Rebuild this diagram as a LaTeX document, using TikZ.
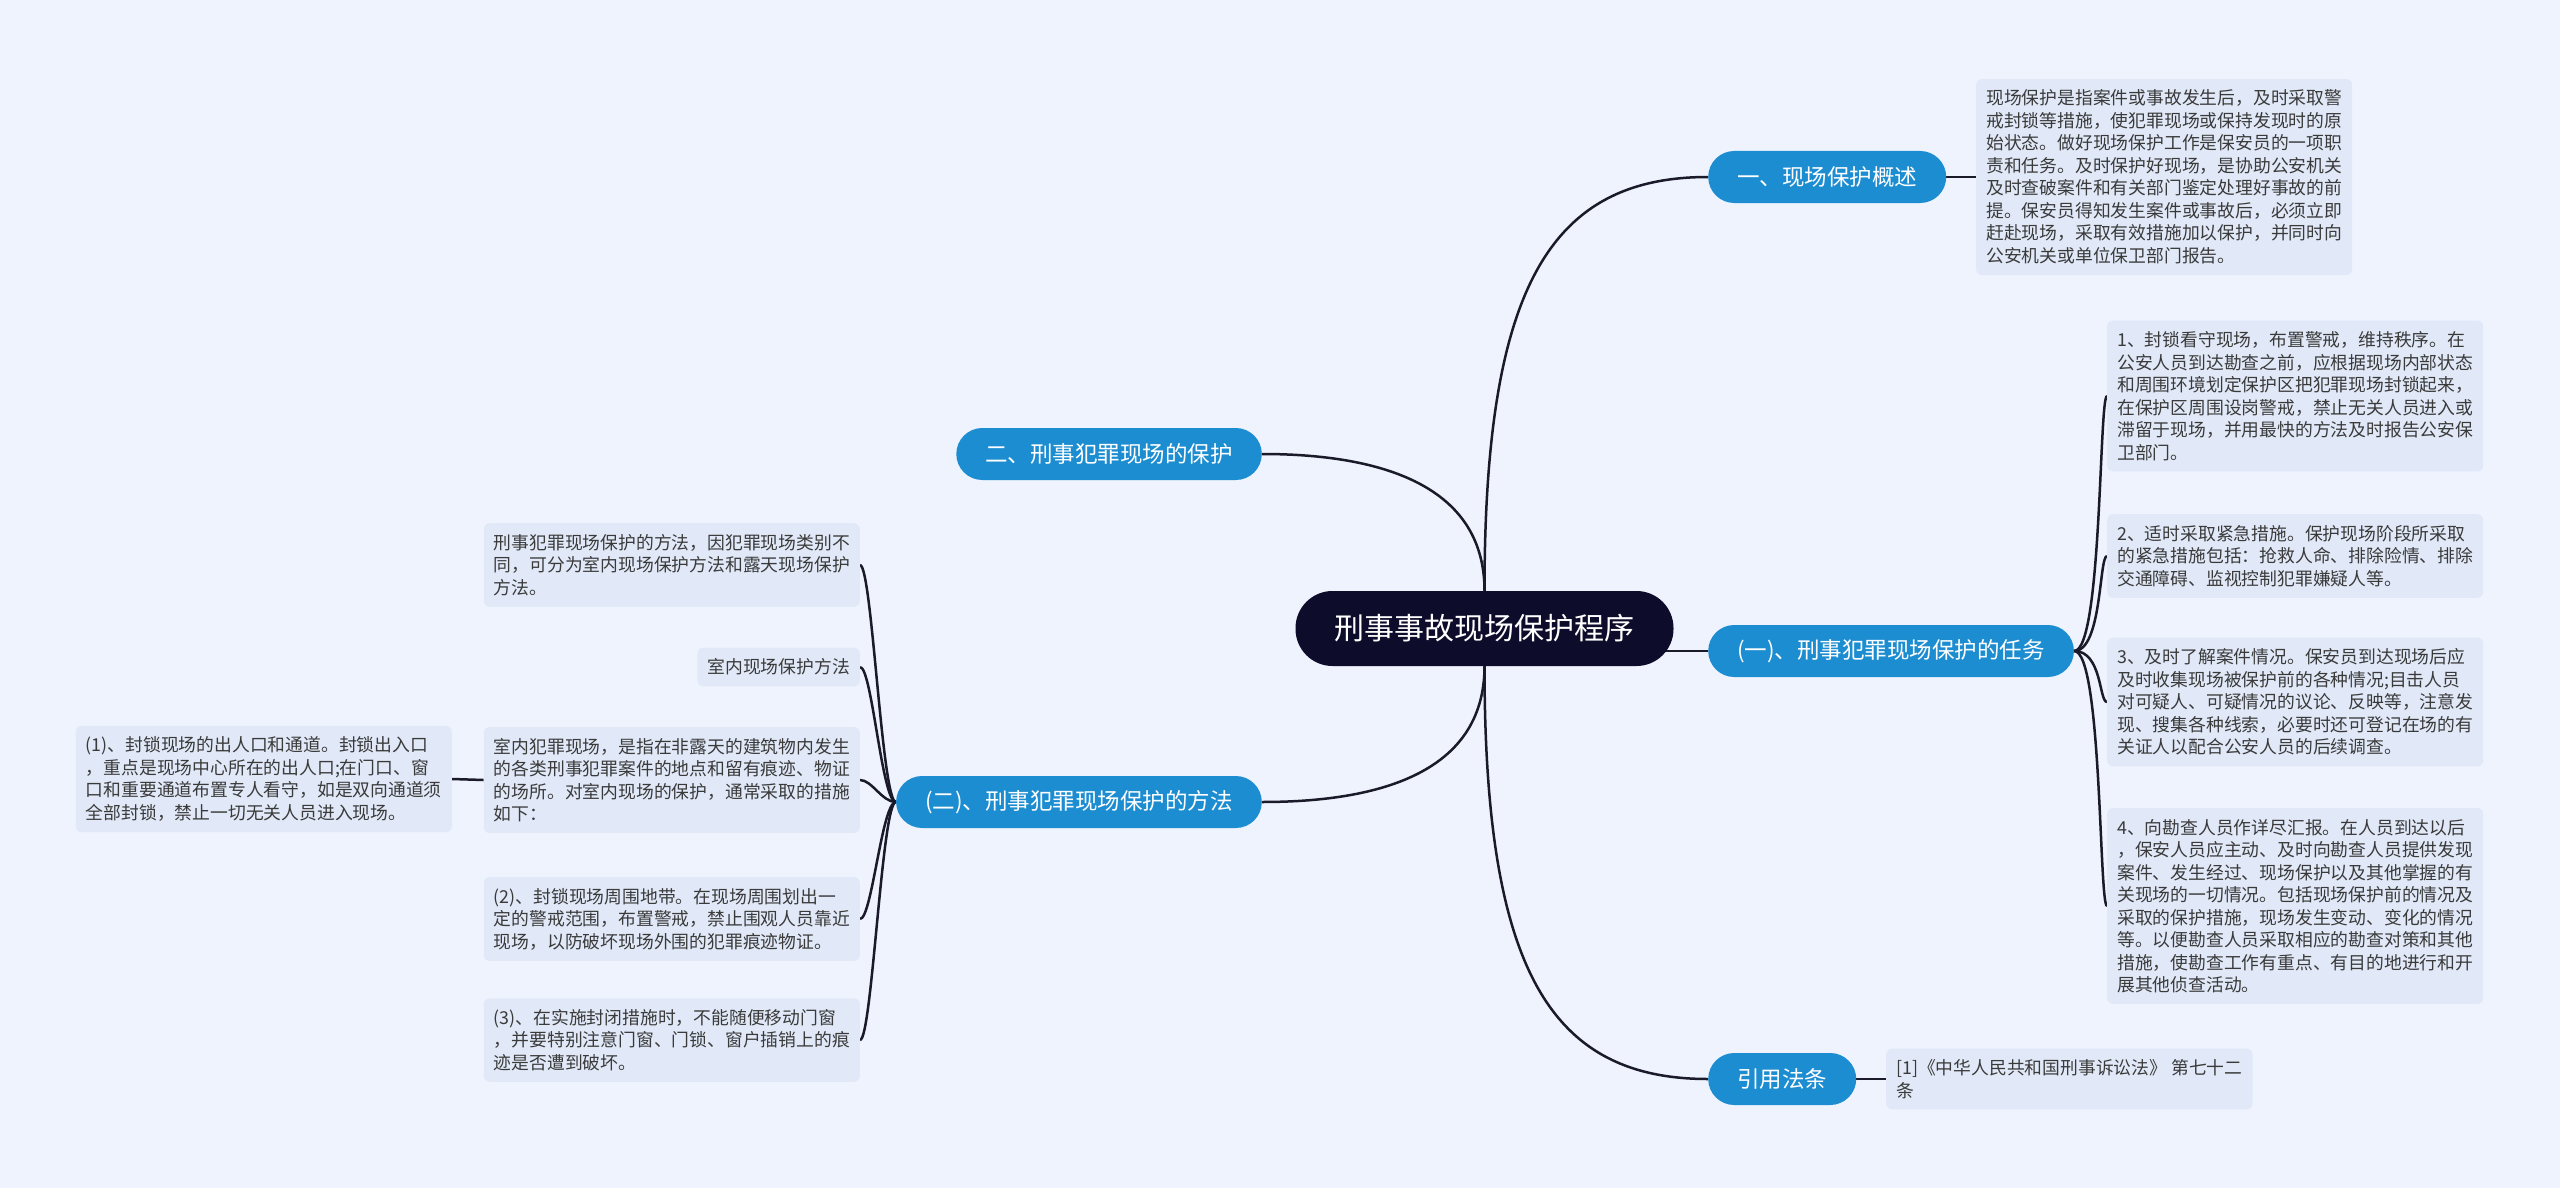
\documentclass[tikz,border=0pt]{standalone}
\usepackage{fontspec}
\setmainfont{Noto Sans CJK SC}
\usetikzlibrary{backgrounds}
\definecolor{cBg}{HTML}{EEF3FD}
\definecolor{cRoot}{HTML}{0E0C2B}
\definecolor{cMain}{HTML}{1D8DD1}
\definecolor{cLeaf}{HTML}{E1E9F8}
\definecolor{cInk}{HTML}{1A1A2A}
\definecolor{cText}{HTML}{3A3A3A}
\tikzset{
  link/.style={line width=2.5pt,draw=cInk},
  rootbox/.style={rounded corners=37pt,fill=cRoot,text=white,minimum height=75pt,
                  inner xsep=39pt,font=\fontsize{30}{36}\selectfont},
  mainbox/.style={rounded corners=26pt,fill=cMain,text=white,minimum height=52pt,
                  inner xsep=29pt,font=\fontsize{22.5}{27}\selectfont},
  leaf/.style={rounded corners=6pt,fill=cLeaf,text=cText,align=left,inner xsep=10pt,
               inner ysep=11pt,font=\fontsize{17.8}{22.5}\selectfont}
}

\begin{document}
\begin{tikzpicture}[x=1pt,y=-1pt]
  % Centre and main branches.
  \node[rootbox] (root) at (1484.5,628.5) {刑事事故现场保护程序};
  \node[mainbox,anchor=west] (secA) at (1708,177) {一、现场保护概述};
  \node[mainbox,anchor=east] (secB) at (1262,454) {二、刑事犯罪现场的保护};
  \node[mainbox,anchor=west] (task) at (1708,651) {(一)、刑事犯罪现场保护的任务};
  \node[mainbox,anchor=east] (method) at (1262,802) {(二)、刑事犯罪现场保护的方法};
  \node[mainbox,anchor=west] (law) at (1708,1079) {引用法条};

  % Right side leaves.
  \node[leaf,anchor=west] (ov) at (1976,177)
    {现场保护是指案件或事故发生后，及时采取警\\戒封锁等措施，使犯罪现场或保持发现时的原\\始状态。做好现场保护工作是保安员的一项职\\责和任务。及时保护好现场，是协助公安机关\\及时查破案件和有关部门鉴定处理好事故的前\\提。保安员得知发生案件或事故后，必须立即\\赶赴现场，采取有效措施加以保护，并同时向\\公安机关或单位保卫部门报告。};
  \node[leaf,anchor=west] (t1) at (2107,396)
    {1、封锁看守现场，布置警戒，维持秩序。在\\公安人员到达勘查之前，应根据现场内部状态\\和周围环境划定保护区把犯罪现场封锁起来，\\在保护区周围设岗警戒，禁止无关人员进入或\\滞留于现场，并用最快的方法及时报告公安保\\卫部门。};
  \node[leaf,anchor=west] (t2) at (2107,556)
    {2、适时采取紧急措施。保护现场阶段所采取\\的紧急措施包括：抢救人命、排除险情、排除\\交通障碍、监视控制犯罪嫌疑人等。};
  \node[leaf,anchor=west] (t3) at (2107,702)
    {3、及时了解案件情况。保安员到达现场后应\\及时收集现场被保护前的各种情况;目击人员\\对可疑人、可疑情况的议论、反映等，注意发\\现、搜集各种线索，必要时还可登记在场的有\\关证人以配合公安人员的后续调查。};
  \node[leaf,anchor=west] (t4) at (2107,906)
    {4、向勘查人员作详尽汇报。在人员到达以后\\，保安人员应主动、及时向勘查人员提供发现\\案件、发生经过、现场保护以及其他掌握的有\\关现场的一切情况。包括现场保护前的情况及\\采取的保护措施，现场发生变动、变化的情况\\等。以便勘查人员采取相应的勘查对策和其他\\措施，使勘查工作有重点、有目的地进行和开\\展其他侦查活动。};
  \node[leaf,anchor=west] (lawtxt) at (1886,1079)
    {[1]《中华人民共和国刑事诉讼法》 第七十二\\条};

  % Left side leaves.
  \node[leaf,anchor=east] (intro) at (860,565)
    {刑事犯罪现场保护的方法，因犯罪现场类别不\\同，可分为室内现场保护方法和露天现场保护\\方法。};
  \node[leaf,anchor=east] (indoorm) at (860,667) {室内现场保护方法};
  \node[leaf,anchor=east] (indoor) at (860,780)
    {室内犯罪现场，是指在非露天的建筑物内发生\\的各类刑事犯罪案件的地点和留有痕迹、物证\\的场所。对室内现场的保护，通常采取的措施\\如下：};
  \node[leaf,anchor=east] (p2) at (860,919)
    {(2)、封锁现场周围地带。在现场周围划出一\\定的警戒范围，布置警戒，禁止围观人员靠近\\现场，以防破坏现场外围的犯罪痕迹物证。};
  \node[leaf,anchor=east] (p3) at (860,1040)
    {(3)、在实施封闭措施时，不能随便移动门窗\\，并要特别注意门窗、门锁、窗户插销上的痕\\迹是否遭到破坏。};
  \node[leaf,anchor=east] (p1) at (452,779)
    {(1)、封锁现场的出人口和通道。封锁出入口\\，重点是现场中心所在的出人口;在门口、窗\\口和重要通道布置专人看守，如是双向通道须\\全部封锁，禁止一切无关人员进入现场。};

  \begin{scope}[on background layer]
    \fill[cBg] (0,0) rectangle (2560,1188);
    \draw[link] (root.north) .. controls +(0,-300) and +(-160,0) .. (secA.west);
    \draw[link] (root.north) .. controls +(0,-110) and +(110,0) .. (secB.east);
    \draw[link] (root.center |- task.west) -- (task.west);
    \draw[link] (root.south) .. controls +(0,110) and +(110,0) .. (method.east);
    \draw[link] (root.south) .. controls +(0,300) and +(-160,0) .. (law.west);
    \draw[link] (secA.east) -- (ov.west);
    \draw[link] (law.east) -- (lawtxt.west);
    \foreach \leaf in {t1,t2,t3,t4}
      \draw[link] (task.east) .. controls +(28,0) and +(-8,0) .. (\leaf.west);
    \foreach \leaf in {intro,indoorm,indoor,p2,p3}
      \draw[link] (method.west) .. controls +(-14,0) and +(12,0) .. (\leaf.east);
    \draw[link] (indoor.west) -- (p1.east);
  \end{scope}
\end{tikzpicture}
\end{document}
